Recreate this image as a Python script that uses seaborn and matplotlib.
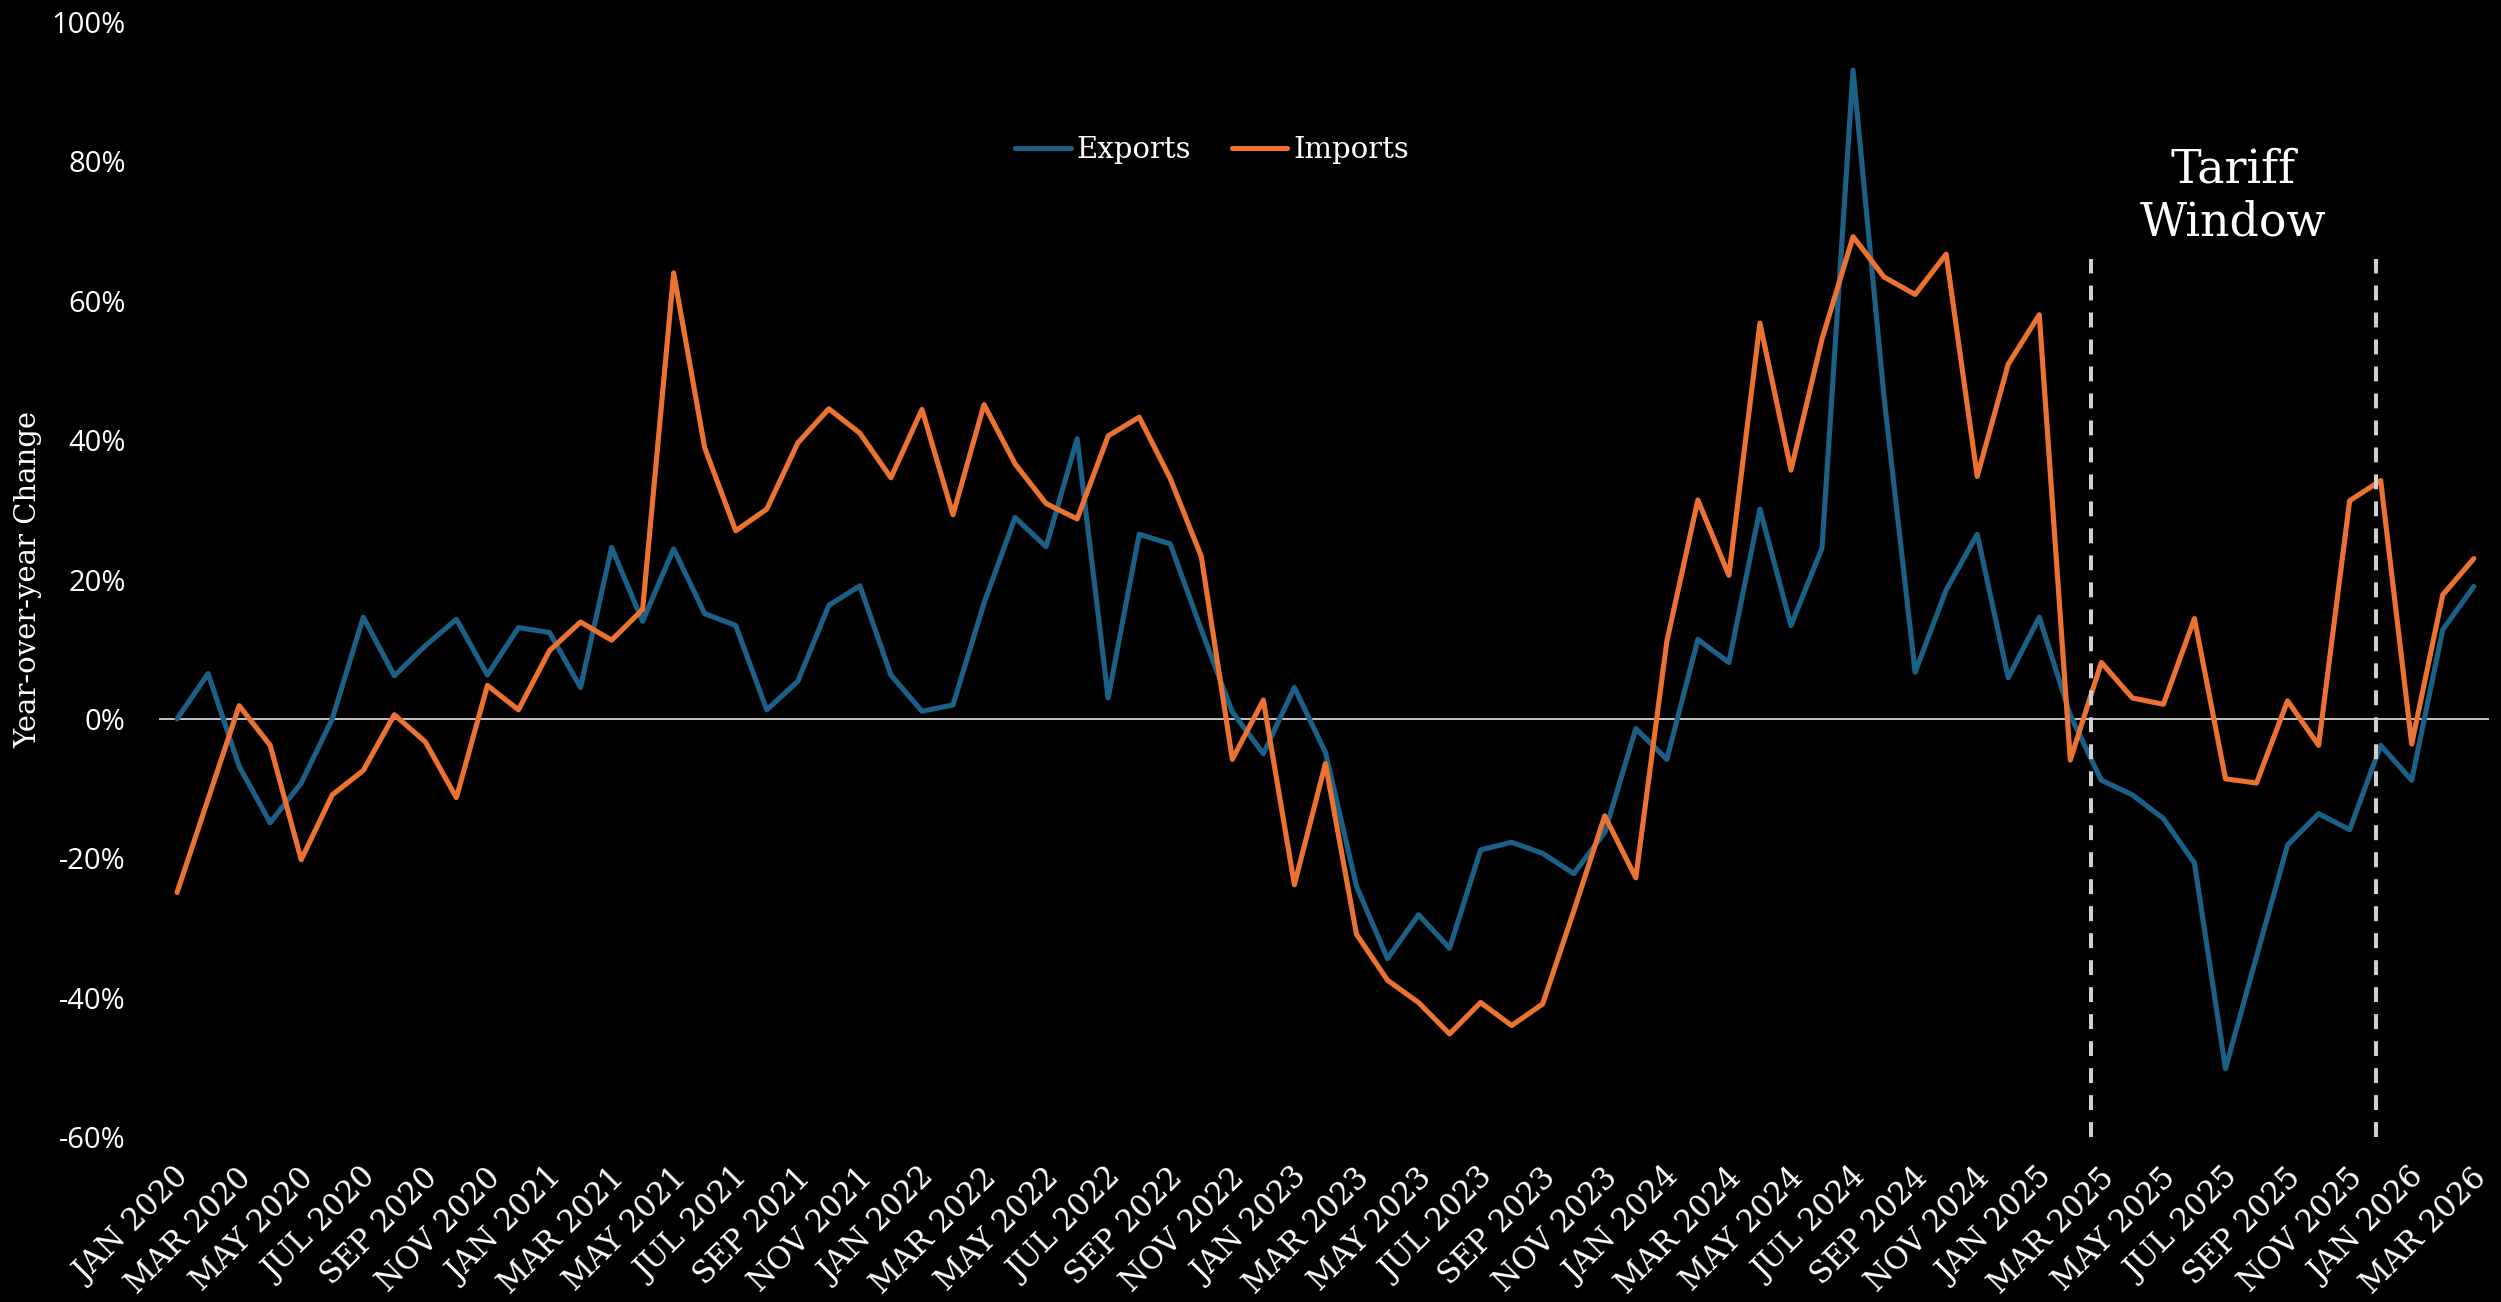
import numpy as np
import pandas as pd
import seaborn as sns
import matplotlib.pyplot as plt
from matplotlib.transforms import ScaledTranslation

# month labels, JAN 2020 .. MAR 2026
MONTHS = pd.date_range("2020-01-01", periods=75, freq="MS").strftime("%b %Y").str.upper().tolist()

# year-over-year change, %
EXPORTS = [
    0.0, 6.5, -6.8, -14.9, -9.2, 0.0, 14.6, 6.2, 10.5, 14.3, 6.3, 13.1,
    12.4, 4.5, 24.6, 14.0, 24.4, 15.1, 13.4, 1.3, 5.4, 16.3, 19.1, 6.3,
    1.1, 2.0, 16.6, 28.9, 24.7, 40.2, 3.0, 26.5, 25.1, 12.8, 1.0, -5.0,
    4.5, -4.8, -24.0, -34.4, -28.1, -32.9, -18.8, -17.7, -19.3, -22.2, -16.3, -1.4,
    -5.8, 11.4, 8.1, 30.1, 13.4, 24.5, 93.1, 46.1, 6.7, 18.5, 26.5, 5.9,
    14.6, 0.5, -8.8, -10.9, -14.3, -20.7, -50.2, -34.1, -18.1, -13.6, -15.9, -3.8,
    -8.8, 12.8, 19.0,
]
IMPORTS = [
    -24.9, -11.5, 1.9, -3.8, -20.2, -10.9, -7.4, 0.6, -3.3, -11.3, 4.8, 1.3,
    9.8, 13.9, 11.3, 15.7, 64.0, 38.9, 27.0, 30.1, 39.6, 44.5, 41.0, 34.6,
    44.4, 29.3, 45.1, 36.6, 30.9, 28.7, 40.6, 43.3, 34.5, 23.3, -5.8, 2.7,
    -23.8, -6.4, -30.9, -37.5, -40.7, -45.2, -40.7, -44.0, -40.9, -27.6, -13.9, -22.8,
    11.1, 31.4, 20.6, 56.8, 35.7, 54.5, 69.2, 63.4, 60.9, 66.7, 34.8, 50.9,
    58.0, -5.9, 8.1, 3.0, 2.1, 14.4, -8.6, -9.2, 2.6, -3.8, 31.3, 34.2,
    -3.6, 17.8, 23.0,
]
Y_TICKS = [-60, -40, -20, 0, 20, 40, 60, 80, 100]

# tariff window markers (month index positions)
TARIFF_START = 61.67
TARIFF_END = 70.85

BLUE = "#1b6087"
ORANGE = "#ec7231"

df = pd.DataFrame({"idx": range(len(MONTHS)), "Exports": EXPORTS, "Imports": IMPORTS})
df = df.melt(id_vars="idx", var_name="Series", value_name="YoY")

sns.set_theme(style="white", rc={"axes.facecolor": "black", "figure.facecolor": "black"})
plt.rcParams["font.family"] = ["DejaVu Serif"]

fig = plt.figure(figsize=(25.01, 13.02), dpi=100)
ax = fig.add_axes([0.0636, 0.1267, 0.9316, 0.8564])

ax.axhline(0, color="#c4c4c4", linewidth=1.4, zorder=1)
sns.lineplot(data=df, x="idx", y="YoY", hue="Series",
             palette={"Exports": BLUE, "Imports": ORANGE},
             linewidth=3.7, ax=ax, zorder=3)

ax.vlines([TARIFF_START, TARIFF_END], -60, 66, colors="#cfcfcf",
          linestyles=(0, (3.7, 3.0)), linewidth=2.9, zorder=5)
ax.text((TARIFF_START + TARIFF_END) / 2, 75.0, "Tariff\nWindow", ha="center", va="center",
        fontsize=33, color="white", linespacing=1.22)

ax.set_xlim(-0.58, 74.49)
ax.set_ylim(-60, 100)
ax.set_yticks(Y_TICKS)
ax.set_yticklabels([f"{v}%" for v in Y_TICKS], fontsize=21, color="white", family=["Open Sans", "DejaVu Sans"])
ax.set_xticks(range(0, len(MONTHS), 2))
ax.set_xticklabels(MONTHS[::2], fontsize=22, color="white", rotation=45,
                   ha="right", va="center", rotation_mode="anchor")
ax.tick_params(axis="y", length=0, pad=24)
ax.tick_params(axis="x", length=0, pad=26)
# nudge the slanted month labels a little to the right, as in the original
shift = ScaledTranslation(8 / 100, 0, fig.dpi_scale_trans)
for lbl in ax.get_xticklabels():
    lbl.set_transform(lbl.get_transform() + shift)

ax.set_xlabel("")
ax.set_ylabel("Year-over-year Change", fontsize=21, color="white")
ax.yaxis.set_label_coords(-0.0562, 0.5)
ax.yaxis.label.set_va("center")

for s in ax.spines.values():
    s.set_visible(False)
ax.grid(False)

handles, labels = ax.get_legend_handles_labels()
leg = ax.legend(handles, labels, loc="center", bbox_to_anchor=(0.452, 0.885), ncol=2,
                frameon=False, fontsize=21, handlelength=1.9, handletextpad=0.2,
                columnspacing=1.4, labelcolor="white")
for h in leg.get_lines():
    h.set_linewidth(3.7)
    h.set_solid_capstyle("round")

fig.savefig("out.png", dpi=100, facecolor="black")
